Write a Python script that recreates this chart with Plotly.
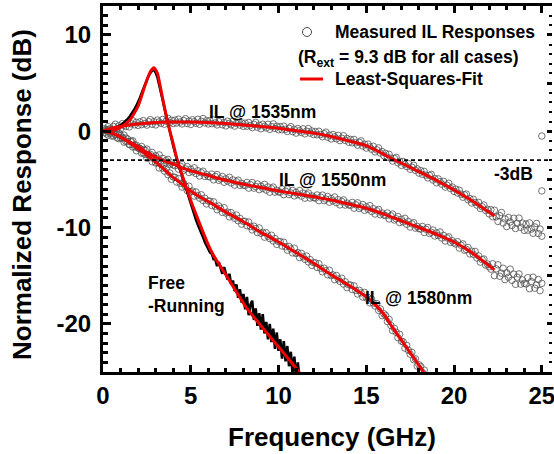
import plotly.graph_objects as go

# ---------------- data ----------------
# measured sampling grid of the IL responses (GHz)
freq_il = [round(0.1 * i, 1) for i in range(1, 251)]

il_1535_meas = [
    0.26, 0.02, 0.48, 0.24, 0.1, 0.49, 0.73, 0.27, 0.56, 0.25,
    0.78, 0.61, 0.49, 0.92, 0.45, 0.77, 1.09, 0.66, 0.93, 0.6,
    0.97, 0.68, 1.1, 0.81, 0.63, 0.99, 1.2, 0.72, 0.99, 0.65,
    1.16, 0.96, 0.82, 1.22, 0.73, 1.04, 1.34, 0.89, 1.14, 0.8,
    1.15, 0.85, 1.25, 0.95, 0.75, 1.1, 1.3, 0.8, 1.05, 0.7,
    1.19, 0.99, 0.83, 1.23, 0.72, 1.02, 1.32, 0.86, 1.1, 0.75,
    1.09, 0.78, 1.17, 0.86, 0.65, 0.99, 1.18, 0.67, 0.91, 0.55,
    1.04, 0.82, 0.66, 1.04, 0.53, 0.81, 1.1, 0.63, 0.87, 0.5,
    0.835, 0.52, 0.905, 0.59, 0.375, 0.71, 0.92, 0.41, 0.615, 0.25,
    0.73, 0.51, 0.34, 0.72, 0.2, 0.48, 0.76, 0.29, 0.52, 0.15,
    0.475, 0.15, 0.525, 0.2, -0.025, 0.3, 0.475, -0.05, 0.175, -0.2,
    0.275, 0.05, -0.125, 0.25, -0.275, 0.0, 0.275, -0.2, 0.025, -0.35,
    -0.035, -0.37, -0.005, -0.34, -0.575, -0.26, -0.095, -0.63, -0.415, -0.8,
    -0.345, -0.59, -0.785, -0.43, -0.975, -0.72, -0.465, -0.96, -0.755, -1.15,
    -0.85, -1.2, -0.85, -1.2, -1.45, -1.15, -1.0, -1.55, -1.35, -1.75,
    -1.34, -1.63, -1.87, -1.56, -2.15, -1.94, -1.73, -2.27, -2.11, -2.55,
    -2.3, -2.7, -2.4, -2.8, -3.1, -2.83, -2.71, -3.29, -3.12, -3.55,
    -3.14, -3.43, -3.67, -3.36, -3.95, -3.74, -3.53, -4.07, -3.91, -4.35,
    -4.09, -4.48, -4.17, -4.56, -4.85, -4.59, -4.48, -5.07, -4.91, -5.35,
    -4.95, -5.25, -5.5, -5.2, -5.8, -5.6, -5.4, -5.95, -5.8, -6.25,
    -6.01, -6.42, -6.13, -6.54, -6.85, -6.61, -6.52, -7.13, -6.99, -7.45,
    -7.07, -7.4, -7.67, -7.39, -8.02, -7.84, -7.66, -8.23, -8.11, -8.58,
    -8.15, -8.88, -8.2, -8.89, -9.37, -8.76, -8.44, -9.53, -9.11, -9.9,
    -8.96, -9.42, -9.78, -9.04, -10.1, -9.56, -9.02, -9.98, -9.54, -10.3,
    -9.64, -10.28, -9.52, -10.16, -10.6, -9.94, -9.58, -10.62, -10.16, -10.9]

il_1550_meas = [
    -0.14, 0.17, -0.42, -0.06, 0.15, -0.48, -0.36, -0.14, -0.77, -0.45,
    -0.75, -0.4, -1.05, -0.8, -1.4, -1.1, -1.0, -1.6, -1.45, -1.7,
    -1.82, -1.59, -2.26, -1.98, -1.85, -2.5, -2.4, -2.2, -2.85, -2.55,
    -2.83, -2.46, -3.09, -2.82, -3.4, -3.06, -2.92, -3.48, -3.29, -3.5,
    -3.58, -3.31, -3.94, -3.62, -3.45, -4.06, -3.92, -3.68, -4.29, -3.95,
    -4.2, -3.8, -4.4, -4.1, -4.65, -4.3, -4.15, -4.7, -4.5, -4.7,
    -4.75, -4.45, -5.05, -4.7, -4.5, -5.1, -4.95, -4.7, -5.3, -4.95,
    -5.19, -4.78, -5.37, -5.06, -5.6, -5.24, -5.08, -5.62, -5.41, -5.6,
    -5.64, -5.32, -5.91, -5.54, -5.33, -5.91, -5.75, -5.48, -6.07, -5.7,
    -5.94, -5.52, -6.11, -5.79, -6.33, -5.96, -5.8, -6.33, -6.12, -6.3,
    -6.33, -6.01, -6.59, -6.22, -6.0, -6.58, -6.41, -6.14, -6.72, -6.35,
    -6.58, -6.16, -6.74, -6.42, -6.95, -6.58, -6.41, -6.94, -6.72, -6.9,
    -6.94, -6.62, -7.21, -6.84, -6.63, -7.21, -7.05, -6.78, -7.37, -7.0,
    -7.24, -6.83, -7.42, -7.11, -7.65, -7.29, -7.13, -7.67, -7.46, -7.65,
    -7.7, -7.39, -7.99, -7.63, -7.43, -8.02, -7.87, -7.61, -8.21, -7.85,
    -8.11, -7.72, -8.33, -8.04, -8.6, -8.26, -8.12, -8.68, -8.49, -8.7,
    -8.77, -8.49, -9.11, -8.78, -8.6, -9.22, -9.09, -8.86, -9.48, -9.15,
    -9.42, -9.04, -9.66, -9.38, -9.95, -9.62, -9.49, -10.06, -9.88, -10.1,
    -10.17, -9.89, -10.51, -10.18, -10.0, -10.62, -10.49, -10.26, -10.88, -10.55,
    -10.83, -10.46, -11.09, -10.82, -11.4, -11.08, -10.96, -11.54, -11.37, -11.6,
    -11.71, -11.47, -12.13, -11.84, -11.7, -12.36, -12.27, -12.08, -12.74, -12.45,
    -12.79, -12.48, -13.16, -12.95, -13.59, -13.33, -13.27, -13.9, -13.79, -14.08,
    -14.32, -13.76, -15.0, -14.29, -13.87, -15.06, -14.74, -14.23, -15.41, -14.7,
    -15.16, -14.32, -15.48, -14.84, -15.9, -15.16, -14.82, -15.88, -15.44, -15.8,
    -15.85, -15.2, -16.35, -15.6, -15.15, -16.3, -15.95, -15.4, -16.55, -15.8]

il_1580_meas = [
    0.11, -0.28, 0.18, -0.21, -0.5, -0.08, -0.31, -0.69, -0.17, -0.7,
    -0.62, -1.14, -0.71, -1.08, -1.35, -1.02, -1.64, -1.41, -2.03, -1.75,
    -1.79, -2.28, -1.92, -2.41, -2.8, -2.44, -2.73, -3.17, -2.71, -3.3,
    -3.26, -3.82, -3.43, -3.84, -4.15, -3.86, -4.52, -4.33, -4.99, -4.75,
    -4.79, -5.28, -4.92, -5.41, -5.8, -5.44, -5.73, -6.17, -5.71, -6.3,
    -6.22, -6.74, -6.31, -6.68, -6.95, -6.6, -7.2, -6.95, -7.55, -7.25,
    -7.26, -7.72, -7.33, -7.79, -8.15, -7.76, -8.02, -8.43, -7.94, -8.5,
    -8.4, -8.9, -8.45, -8.8, -9.05, -8.7, -9.3, -9.05, -9.65, -9.35,
    -9.36, -9.82, -9.43, -9.89, -10.25, -9.86, -10.12, -10.53, -10.04, -10.6,
    -10.5, -11.0, -10.55, -10.9, -11.15, -10.8, -11.4, -11.15, -11.75, -11.45,
    -11.46, -11.92, -11.53, -11.99, -12.35, -11.96, -12.22, -12.63, -12.14, -12.7,
    -12.61, -13.12, -12.68, -13.04, -13.3, -12.96, -13.57, -13.33, -13.94, -13.65,
    -13.67, -14.14, -13.76, -14.23, -14.6, -14.22, -14.49, -14.91, -14.43, -15.0,
    -14.91, -15.42, -14.98, -15.34, -15.6, -15.26, -15.87, -15.63, -16.24, -15.95,
    -15.97, -16.44, -16.06, -16.53, -16.9, -16.52, -16.79, -17.21, -16.73, -17.3,
    -17.26, -17.82, -17.43, -17.84, -18.15, -17.9, -18.6, -18.45, -19.15, -18.95,
    -19.13, -19.76, -19.54, -20.17, -20.7, -20.46, -20.87, -21.43, -21.09, -21.8,
    -21.86, -22.52, -22.23, -22.74, -23.15, -22.96, -23.72, -23.63, -24.39, -24.25,
    -24.42, -25.04, -24.8]

stray_freq = [25.0, 25.0]
stray_meas = [-0.5, -6.2]

# free-running measured response (GHz grid, dB)
freq_fr = [round(0.1 * i, 1) for i in range(0, 113)]
fr_meas = [
    0.0, 0.05, 0.0, 0.1, 0.12, 0.2, 0.25, 0.35, 0.4, 0.5,
    0.6, 0.75, 0.9, 1.05, 1.25, 1.45, 1.7, 2.0, 2.3, 2.65,
    3.0, 3.45, 3.95, 4.45, 4.9, 5.35, 5.75, 6.05, 6.3, 6.35,
    6.1, 5.6, 4.9, 4.1, 3.25, 2.4, 1.55, 0.7, -0.05, -0.75,
    -1.5, -2.2, -2.9, -3.5, -4.1, -4.6, -5.2, -5.7, -6.3, -6.8,
    -7.6, -8.2, -8.7, -9.2, -9.7, -10.1, -10.6, -11.0, -11.5, -11.9,
    -12.2, -12.6, -12.7, -13.3, -13.3, -14.0, -13.6, -14.3, -14.8, -14.1,
    -14.8, -15.4, -14.8, -15.9, -15.5, -16.6, -15.9, -17.3, -16.4, -17.8,
    -16.9, -18.5, -17.2, -19.1, -18.0, -17.6, -19.6, -18.4, -20.2, -18.9,
    -20.6, -19.0, -21.0, -19.8, -21.6, -20.0, -21.9, -20.5, -22.6, -20.9,
    -22.8, -21.6, -23.6, -21.8, -23.9, -22.3, -24.4, -22.9, -25.2, -23.4,
    -25.5, -24.0, -25.8]

# least-squares fits
fit_1535_f = [0, 0.5, 1, 1.5, 2, 3, 4, 5, 6, 7, 8, 9, 10, 11, 12, 13, 14, 15, 16,
              16.5, 17, 17.5, 18, 19, 19.6, 20, 21, 22.3]
fit_1535_v = [0, 0.3, 0.5, 0.65, 0.75, 0.9, 0.95, 0.95, 0.9, 0.8, 0.65, 0.5, 0.3, 0.05,
              -0.2, -0.55, -1.0, -1.5, -2.4, -2.9, -3.3, -3.75, -4.2, -5.1, -5.7, -6.1, -7.2, -8.8]

fit_1550_f = [0, 0.5, 1, 1.5, 2, 2.5, 3, 3.5, 4, 4.5, 5, 5.5, 6, 7, 8, 9, 10, 11, 12,
              13, 14, 15, 16, 17, 18, 19, 20, 21, 22.3]
fit_1550_v = [0, -0.2, -0.6, -1.1, -1.6, -2.2, -2.7, -3.1, -3.4, -3.8, -4.1, -4.35, -4.6,
              -5.1, -5.5, -5.85, -6.2, -6.5, -6.8, -7.15, -7.55, -8.0, -8.6, -9.3, -10.0,
              -10.7, -11.5, -12.6, -14.4]

fit_1580_f = [0, 0.5, 1, 1.5, 2, 2.5, 3, 3.5, 4, 4.5, 5, 5.5, 6, 7, 8, 9, 10, 11, 12,
              13, 14, 15, 15.5, 16, 16.5, 17, 17.5, 18, 18.3]
fit_1580_v = [0, -0.2, -0.6, -1.2, -1.8, -2.5, -3.2, -4.0, -4.8, -5.5, -6.2, -6.8, -7.3,
              -8.4, -9.4, -10.5, -11.5, -12.6, -13.7, -14.9, -16.0, -17.2, -18.0, -19.0,
              -20.4, -21.7, -23.0, -24.3, -25.1]

fit_fr_f = [0, 0.5, 1, 1.5, 2, 2.4, 2.7, 2.9, 3.1, 3.3, 3.5, 3.7, 4.0, 4.2, 4.5, 4.7,
            5.0, 5.4, 6.0, 6.3, 7.0, 8.2, 9.0, 10.0, 11.0, 11.2]
fit_fr_v = [0, 0.1, 0.4, 1.1, 2.6, 4.8, 6.2, 6.6, 6.0, 4.3, 2.5, 0.8, -1.3, -2.8, -4.5,
            -5.6, -7.2, -9.1, -11.8, -12.9, -14.9, -18.4, -20.2, -22.4, -24.6, -25.1]

x_ticks = [0, 5, 10, 15, 20, 25]
x_tick_text = ["0", "5", "10", "15", "20", "25"]
y_ticks = [10, 0, -10, -20]
y_tick_text = ["10", "0", "-10", "-20"]
ref_level = -3

# ---------------- styling ----------------
FONT = "Liberation Sans, Arial, sans-serif"
CIRC = dict(symbol="circle-open", size=6.5, color="#505050", line=dict(width=0.8))
RED = "#ee0000"

fig = go.Figure()

for yv in (il_1535_meas, il_1550_meas, il_1580_meas):
    fig.add_trace(go.Scatter(x=freq_il[:len(yv)], y=yv, mode="markers",
                             marker=CIRC, showlegend=False))

fig.add_trace(go.Scatter(x=freq_fr, y=fr_meas, mode="lines",
                         line=dict(color="black", width=2.6), showlegend=False))

for fx, fv in ((fit_1535_f, fit_1535_v), (fit_1550_f, fit_1550_v),
               (fit_1580_f, fit_1580_v), (fit_fr_f, fit_fr_v)):
    fig.add_trace(go.Scatter(x=fx, y=fv, mode="lines",
                             line=dict(color=RED, width=3, shape="spline", smoothing=0.6),
                             showlegend=False))

fig.add_trace(go.Scatter(x=stray_freq, y=stray_meas, mode="markers", marker=CIRC,
                         yaxis="y2", showlegend=False, cliponaxis=False))

# -3 dB reference line
fig.add_shape(type="line", xref="paper", x0=0, x1=1, yref="y", y0=ref_level, y1=ref_level,
              line=dict(color="black", width=1.6, dash="4px,3px"))


def txt(x, y, s, size=17.5, xanchor="center", xref="x", yref="y", angle=0):
    fig.add_annotation(x=x, y=y, xref=xref, yref=yref, text=s, showarrow=False,
                       xanchor=xanchor, yanchor="middle", textangle=angle,
                       font=dict(family=FONT, size=size, color="black", weight="bold"))


txt(9.1, 2.0, "IL @ 1535nm")
txt(13.1, -5.1, "IL @ 1550nm")
txt(18.0, -17.3, "IL @ 1580nm")
txt(23.4, -4.4, "-3dB")
txt(2.45, -15.8, "Free", xanchor="left")
txt(2.45, -18.1, "-Running", xanchor="left")


# legend (manual) — pixel helpers for the plot area (103..552 x 6..372)
def px(xp):
    return (xp - 103) / 449.0


def py(yp):
    return (372 - yp) / 366.0


fig.add_shape(type="circle", xref="paper", yref="paper",
              x0=px(302.5), x1=px(311.5), y0=py(36.5), y1=py(27.5),
              line=dict(color="#4a4a4a", width=1))
txt(px(333), py(32), "Measured IL Responses", size=17.5, xanchor="left", xref="paper", yref="paper")
txt(px(296), py(58), "(R<sub>ext</sub> = 9.3 dB for all cases)", size=17.5, xanchor="left",
    xref="paper", yref="paper")
fig.add_shape(type="line", xref="paper", yref="paper", x0=px(300), x1=px(323),
              y0=py(79), y1=py(79), line=dict(color=RED, width=3))
txt(px(333), py(79), "Least-Squares-Fit", size=17.5, xanchor="left", xref="paper", yref="paper")

# axis titles
txt(px(332), py(437), "Frequency (GHz)", size=26, xref="paper", yref="paper")
txt(px(22), py(195), "Normalized Response (dB)", size=26, xref="paper", yref="paper", angle=-90)

tickfont = dict(family=FONT, size=24, color="black", weight="bold")

fig.update_layout(
    width=554, height=454,
    margin=dict(l=103, r=2, t=6, b=82),
    paper_bgcolor="white", plot_bgcolor="white",
    xaxis=dict(range=[0, 25.58], showline=True, linewidth=3, linecolor="black",
               mirror="ticks", ticks="inside", ticklen=7, tickwidth=2.5, tickcolor="black",
               tickvals=x_ticks, ticktext=x_tick_text,
               minor=dict(dtick=1, tick0=0, ticks="inside", ticklen=4,
                          tickwidth=2.5, tickcolor="black"),
               showgrid=False, zeroline=False, tickfont=tickfont, automargin=False,
               ticklabeloverflow="allow"),
    yaxis=dict(range=[-25, 13], showline=True, linewidth=3, linecolor="black",
               ticks="inside", ticklen=8, tickwidth=2.5, tickcolor="black",
               tickvals=y_ticks, ticktext=y_tick_text,
               minor=dict(dtick=1, tick0=0, ticks="inside", ticklen=5,
                          tickwidth=2.5, tickcolor="black"),
               showgrid=False, zeroline=False, tickfont=tickfont, automargin=False,
               ticklabelstandoff=4, ticklabeloverflow="allow"),
    yaxis2=dict(range=[-25, 13], overlaying="y", side="right", showline=False,
                ticks="inside", ticklen=5, tickwidth=3, tickcolor="black", dtick=5, tick0=0,
                minor=dict(dtick=1, tick0=0, ticks="inside", ticklen=3, tickwidth=2,
                           tickcolor="black"),
                showticklabels=False, showgrid=False, zeroline=False, automargin=False),
    showlegend=False,
)

fig.write_html("out.html", config={"displayModeBar": False},
               post_script="document.body.style.margin='0';document.body.style.overflow='hidden';")
